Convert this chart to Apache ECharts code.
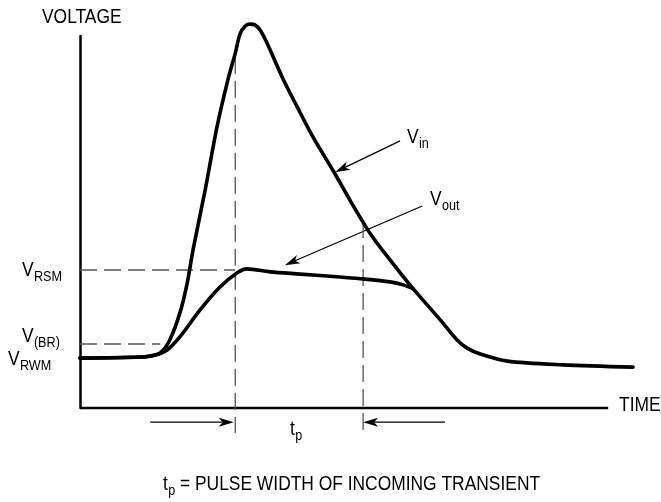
<!DOCTYPE html>
<html>
<head>
<meta charset="utf-8">
<script src="https://cdn.jsdelivr.net/npm/echarts@6/dist/echarts.min.js"></script>
<style>
html, body { margin: 0; padding: 0; background: #fff; }
#chart { width: 661px; height: 502px; }
</style>
</head>
<body>
<div id="chart"></div>
<script>
// time runs 0..100 along the drawn axis, voltage 0..100 up the axis
var vinTime = [0, 11.4, 13.3, 15.2, 17.0, 18.9, 20.3, 21.4, 23.7, 25.9, 28.0, 29.4, 30.3, 31.3, 32.2, 33.1,
    34.1, 35.4, 38.4, 41.1, 44.1, 48.3, 51.1, 54.9, 58.7, 63.1, 68.2, 71.4, 73.3, 75.8, 80.9, 91.5, 104.7];
var vinVolt = [13.4, 13.7, 14.0, 14.8, 18.3, 25.5, 33.6, 42.5, 58.6, 75.3, 88.2, 95.4, 100.6, 102.7, 103.2, 103.0,
    101.6, 98.1, 88.6, 81.0, 72.9, 62.9, 55.9, 47.0, 39.8, 32.0, 23.7, 18.3, 16.1, 14.5, 12.6, 11.6, 11.0];
var voutTime = [0, 11.4, 14.2, 16.5, 18.9, 22.7, 26.5, 29.7, 31.6, 36.0, 41.7, 49.2, 53.6, 58.7, 61.2, 63.1];
var voutVolt = [13.4, 13.7, 14.2, 15.6, 19.1, 26.3, 32.5, 36.3, 37.4, 36.6, 36.0, 35.2, 34.7, 33.9, 33.1, 32.0];

var timeAxisEnd = 100;
var timeMax = 104.7;
var levelRSM = 37.1;
var levelBR = 17.2;
var brEnd = 15.2;
var pulseStart = 29.4;
var pulseEnd = 53.6;
var pulseStartTop = 94.4;
var pulseEndTop = 50.3;
var dashBottom = -6.7;
var tpArrowLevel = -3.8;

// pointer arrows: from [time, volt] to [time, volt]
var arrowFrom = [[60.6, 71.8], [64.8, 54.3], [13.3, tpArrowLevel], [69.1, tpArrowLevel]];
var arrowTo = [[48.3, 63.4], [38.8, 38.4], [29.1, tpArrowLevel], [53.6, tpArrowLevel]];

// condensed Helvetica look: Liberation Sans squeezed horizontally
var FONT = "'Liberation Sans', Arial, sans-serif";
var BIG = 20, SMALL = 14.5, SQUEEZE = 0.87;

function zip(a, b) {
    return a.map(function (v, i) { return [v, b[i]]; });
}

var measureCtx = document.createElement('canvas').getContext('2d');
function textWidth(t, size) {
    measureCtx.font = size + 'px ' + FONT;
    return measureCtx.measureText(t).width * SQUEEZE;
}

// a run of plain + subscript pieces starting at (x, y) = left edge, vertical middle of main text
function label(x, y, pieces) {
    var out = [];
    var cx = x;
    pieces.forEach(function (p) {
        var size = p[1] ? SMALL : BIG;
        out.push({
            type: 'text',
            x: cx,
            y: p[1] ? y + 6.5 : y,
            scaleX: SQUEEZE,
            silent: true,
            style: {
                text: p[0],
                fill: '#000',
                font: size + 'px ' + FONT,
                align: 'left',
                verticalAlign: 'middle'
            }
        });
        cx += textWidth(p[0], size) + (p[1] ? 0 : 0.3);
    });
    return out;
}

function dashed(points) {
    return {
        type: 'line',
        data: points,
        symbol: 'none',
        clip: false,
        silent: true,
        animation: false,
        lineStyle: { color: '#555', width: 1.3, type: [17, 7] }
    };
}

function curve(name, points) {
    return {
        name: name,
        type: 'line',
        data: points,
        smooth: 0.3,
        symbol: 'none',
        clip: false,
        silent: true,
        lineStyle: { color: '#000', width: 3.6, cap: 'round', join: 'round' }
    };
}

var chart = echarts.init(document.getElementById('chart'));

var graphics = [].concat(
    label(42, 17, [['VOLTAGE']]),
    label(619, 405, [['TIME']]),
    label(22, 270, [['V'], ['RSM', 1]]),
    label(22, 336, [['V'], ['(BR)', 1]]),
    label(8, 359, [['V'], ['RWM', 1]]),
    label(407, 137, [['V'], ['in', 1]]),
    label(430, 199, [['V'], ['out', 1]]),
    label(290, 429, [['t'], ['p', 1]]),
    label(163, 484, [['t'], ['p', 1], [' = PULSE WIDTH OF INCOMING TRANSIENT']])
);

var option = {
    backgroundColor: '#fff',
    animation: false,
    grid: { left: 80, right: 28, top: 36, bottom: 94 },
    xAxis: {
        type: 'value', min: 0, max: timeMax,
        axisLine: { show: false },
        axisTick: { show: false }, axisLabel: { show: false }, splitLine: { show: false }
    },
    yAxis: {
        type: 'value', min: 0, max: 100,
        axisLine: { show: true, onZero: false, lineStyle: { color: '#000', width: 2.5 } },
        axisTick: { show: false }, axisLabel: { show: false }, splitLine: { show: false }
    },
    series: [
        {
            // time axis line, which stops short of the right edge of the plot
            type: 'line',
            data: [[0, 0], [timeAxisEnd, 0]],
            symbol: 'none',
            silent: true,
            clip: false,
            lineStyle: { color: '#000', width: 2.5, cap: 'butt' }
        },
        dashed([[0, levelRSM], [pulseStart, levelRSM]]),
        dashed([[0, levelBR], [brEnd, levelBR]]),
        dashed([[pulseStart, pulseStartTop], [pulseStart, dashBottom]]),
        dashed([[pulseEnd, pulseEndTop], [pulseEnd, dashBottom]]),
        curve('Vout', zip(voutTime, voutVolt)),
        curve('Vin', zip(vinTime, vinVolt)),
        {
            type: 'custom',
            clip: false,
            silent: true,
            data: arrowFrom.map(function (f, i) { return [f[0], f[1], arrowTo[i][0], arrowTo[i][1]]; }),
            encode: { x: [0, 2], y: [1, 3] },
            renderItem: function (params, api) {
                var a = api.coord([api.value(0), api.value(1)]);
                var b = api.coord([api.value(2), api.value(3)]);
                var dx = b[0] - a[0], dy = b[1] - a[1];
                var len = Math.sqrt(dx * dx + dy * dy);
                var ux = dx / len, uy = dy / len;
                var px = -uy, py = ux;
                var L = 15, W = 4.5, N = 4;
                var back = [b[0] - ux * L, b[1] - uy * L];
                var notch = [b[0] - ux * (L - N), b[1] - uy * (L - N)];
                return {
                    type: 'group',
                    children: [
                        {
                            type: 'line',
                            shape: { x1: a[0], y1: a[1], x2: notch[0], y2: notch[1] },
                            style: { stroke: '#000', lineWidth: 1.2 }
                        },
                        {
                            type: 'polygon',
                            shape: { points: [b, [back[0] + px * W, back[1] + py * W], notch, [back[0] - px * W, back[1] - py * W]] },
                            style: { fill: '#000' }
                        }
                    ]
                };
            }
        }
    ],
    graphic: graphics
};

chart.setOption(option);
</script>
</body>
</html>
